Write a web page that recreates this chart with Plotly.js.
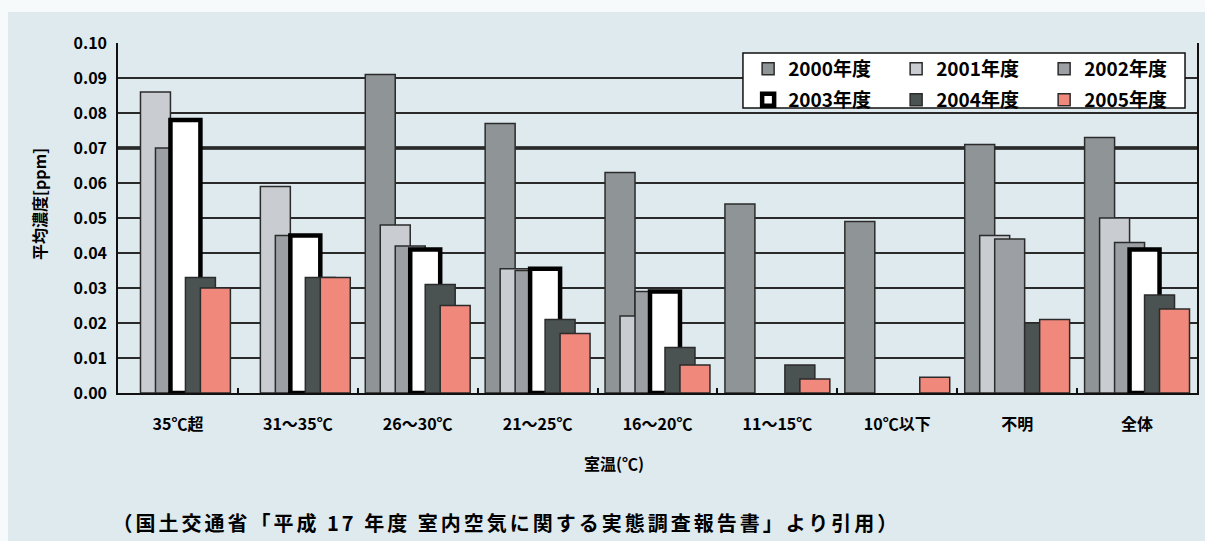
<!DOCTYPE html>
<html>
<head>
<meta charset="utf-8">
<script src="https://cdn.plot.ly/plotly-3.0.1.min.js"></script>
<style>
  html, body { margin: 0; padding: 0; background: #f7fafb; }
  #chart { position: absolute; left: 8px; top: 12px; width: 1197px; height: 529px; }
</style>
</head>
<body>
<div id="chart"></div>
<script>
const categories = ['35℃超', '31～35℃', '26～30℃', '21～25℃', '16～20℃', '11～15℃', '10℃以下', '不明', '全体'];
const seriesNames = ['2000年度', '2001年度', '2002年度', '2003年度', '2004年度', '2005年度'];
const y2000 = [null, null, 0.091, 0.077, 0.063, 0.054, 0.049, 0.071, 0.073];
const y2001 = [0.086, 0.059, 0.048, 0.0355, 0.022, null, null, 0.045, 0.050];
const y2002 = [0.070, 0.045, 0.042, 0.035, 0.029, null, null, 0.044, 0.043];
const y2003 = [0.078, 0.045, 0.041, 0.0355, 0.029, null, null, null, 0.041];
const y2004 = [0.033, 0.033, 0.031, 0.021, 0.013, 0.008, null, 0.020, 0.028];
const y2005 = [0.030, 0.033, 0.025, 0.017, 0.008, 0.004, 0.0045, 0.021, 0.024];
const yTickVals = [0, 0.01, 0.02, 0.03, 0.04, 0.05, 0.06, 0.07, 0.08, 0.09, 0.10];

const values = [y2000, y2001, y2002, y2003, y2004, y2005];
const fills = ['#8f9497', '#c9ccd0', '#9ca0a4', '#ffffff', '#4b5352', '#f0897c'];
const lineW = [1.5, 1.5, 1.5, 4.5, 1.5, 1.5];
const lineC = ['#2b2b2b', '#2b2b2b', '#2b2b2b', '#000000', '#2b2b2b', '#2b2b2b'];
const FONT = '"Noto Sans CJK JP", "Noto Sans", sans-serif';
const SOURCE = '（国土交通省「平成 17 年度 室内空気に関する実態調査報告書」より引用）';

const traces = values.map((v, i) => ({
  type: 'bar',
  name: seriesNames[i],
  x: categories,
  y: v,
  width: 0.25,
  offset: -0.4375 + 0.125 * i,
  marker: { color: fills[i], line: { color: lineC[i], width: lineW[i] } },
  legend: i < 3 ? 'legend' : 'legend2',
  hoverinfo: 'x+y+name'
}));

const legendCommon = {
  orientation: 'h',
  xanchor: 'left', yanchor: 'top',
  bgcolor: 'rgba(0,0,0,0)', borderwidth: 0,
  entrywidth: 103, entrywidthmode: 'pixels',
  font: { family: FONT, size: 19, weight: 700, color: '#000' },
  itemclick: false, itemdoubleclick: false
};

const layout = {
  width: 1197, height: 529,
  paper_bgcolor: '#dfeaef',
  plot_bgcolor: '#dfeaef',
  margin: { l: 110, r: 8, t: 31, b: 148 },
  barmode: 'overlay',
  showlegend: true,
  legend: Object.assign({}, legendCommon, { x: 0.584, y: 0.980 }),
  legend2: Object.assign({}, legendCommon, { x: 0.584, y: 0.892 }),
  xaxis: {
    type: 'category',
    showgrid: false,
    showline: true, linecolor: '#111', linewidth: 1.5,
    ticks: 'inside', tickson: 'boundaries', ticklen: 5, tickcolor: '#111', tickwidth: 1.5,
    ticklabelstandoff: 16,
    tickfont: { family: FONT, size: 16, weight: 700, color: '#000' }
  },
  yaxis: {
    range: [0, 0.1],
    tickvals: yTickVals,
    tickformat: '.2f',
    showgrid: true, gridcolor: '#2a2a2a', gridwidth: 1.5,
    zeroline: false,
    showline: true, linecolor: '#111', linewidth: 1.5, mirror: true,
    ticks: '',
    ticklabelstandoff: 6,
    tickfont: { family: FONT, size: 16, weight: 700, color: '#000' }
  },
  shapes: [
    { type: 'line', xref: 'paper', yref: 'y', x0: 0, x1: 1, y0: 0.07, y1: 0.07,
      line: { color: '#111', width: 3.5 }, layer: 'below' },
    { type: 'rect', xref: 'paper', yref: 'paper', x0: 0.5792, x1: 0.9889, y0: 0.8143, y1: 0.9714,
      fillcolor: '#ffffff', line: { color: '#111', width: 1.5 }, layer: 'above' }
  ],
  annotations: [
    { text: '平均濃度[ppm]', xref: 'paper', yref: 'paper', x: 0, xshift: -79, y: 0.54,
      textangle: -90, showarrow: false, xanchor: 'center', yanchor: 'middle',
      font: { family: FONT, size: 16, weight: 700, color: '#000' } },
    { text: '室温(℃)', xref: 'paper', yref: 'paper', x: 0.4596, y: -0.2, showarrow: false,
      xanchor: 'center', yanchor: 'middle',
      font: { family: FONT, size: 16, weight: 700, color: '#000' } },
    { text: SOURCE,
      xref: 'paper', yref: 'paper', x: 0, xshift: 48, y: -0.3686, showarrow: false,
      xanchor: 'left', yanchor: 'middle',
      font: { family: FONT, size: 20, weight: 700, color: '#000' } }
  ]
};

Plotly.newPlot('chart', traces, layout, { displayModeBar: false, responsive: false }).then(gd => {
  gd.querySelectorAll('.annotation-text').forEach(t => {
    if (t.textContent === SOURCE) t.style.letterSpacing = '3px';
  });
});
</script>
</body>
</html>
